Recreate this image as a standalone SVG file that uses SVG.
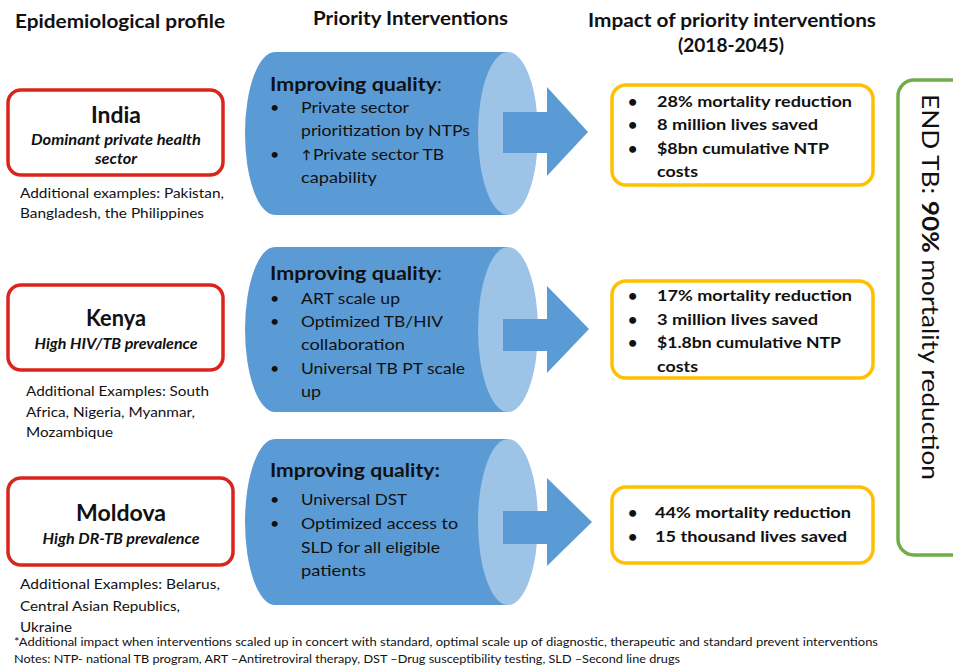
<svg xmlns="http://www.w3.org/2000/svg" width="953" height="668" viewBox="0 0 953 668">
<style>
text{font-family:Lato,"Open Sans","Liberation Sans",sans-serif;fill:#111}
.h{font-size:19px;font-weight:700}
.cn{font-size:22px;font-weight:700;text-anchor:middle}
.sub{font-size:15px;font-weight:700;font-style:italic;text-anchor:middle}
.ex{font-size:14px}
.iq{font-size:19px;font-weight:700}
.it{font-size:16px}
.bl{font-size:16px}
.res{font-size:16px;font-weight:700}
.fn{font-size:12px}
.red{fill:#fff;stroke:#d9251b;stroke-width:3.5}
.yel{fill:#fff;stroke:#ffc000;stroke-width:3.5}
.grn{fill:#fff;stroke:#70ad47;stroke-width:3.5}
.cyl{fill:#5b9bd5}
.cap{fill:#9dc3e6}
.arr{fill:#5b9bd5}
</style>

<g id="headers">
<text class="h" x="15" y="28" textLength="210" lengthAdjust="spacingAndGlyphs">Epidemiological profile</text>
<text class="h" x="313" y="25" textLength="195" lengthAdjust="spacingAndGlyphs">Priority Interventions</text>
<text class="h" x="588" y="27" textLength="288" lengthAdjust="spacingAndGlyphs">Impact of priority interventions</text>
<text class="h" x="678" y="52" textLength="106" lengthAdjust="spacingAndGlyphs">(2018-2045)</text>
</g>

<g id="india">
<rect class="red" x="8" y="90" width="215" height="85" rx="13"/>
<text class="cn" x="116" y="123" textLength="50" lengthAdjust="spacingAndGlyphs">India</text>
<text class="sub" x="116" y="145" textLength="170" lengthAdjust="spacingAndGlyphs">Dominant private health</text>
<text class="sub" x="116" y="164" textLength="42" lengthAdjust="spacingAndGlyphs">sector</text>
<text class="ex" x="20" y="198" textLength="204" lengthAdjust="spacingAndGlyphs">Additional examples: Pakistan,</text>
<text class="ex" x="20" y="218" textLength="184" lengthAdjust="spacingAndGlyphs">Bangladesh, the Philippines</text>
</g>

<g id="kenya">
<rect class="red" x="8" y="285" width="215" height="85" rx="13"/>
<text class="cn" x="116" y="326" textLength="60" lengthAdjust="spacingAndGlyphs">Kenya</text>
<text class="sub" x="116" y="349" textLength="163" lengthAdjust="spacingAndGlyphs">High HIV/TB prevalence</text>
<text class="ex" x="26" y="396" textLength="183" lengthAdjust="spacingAndGlyphs">Additional Examples: South</text>
<text class="ex" x="26" y="417" textLength="169" lengthAdjust="spacingAndGlyphs">Africa, Nigeria, Myanmar,</text>
<text class="ex" x="26" y="437" textLength="87" lengthAdjust="spacingAndGlyphs">Mozambique</text>
</g>

<g id="moldova">
<rect class="red" x="8" y="478" width="225" height="87" rx="13"/>
<text class="cn" x="121" y="521" textLength="90" lengthAdjust="spacingAndGlyphs">Moldova</text>
<text class="sub" x="121" y="544" textLength="157" lengthAdjust="spacingAndGlyphs">High DR-TB prevalence</text>
<text class="ex" x="20" y="589" textLength="200" lengthAdjust="spacingAndGlyphs">Additional Examples: Belarus,</text>
<text class="ex" x="20" y="611" textLength="160" lengthAdjust="spacingAndGlyphs">Central Asian Republics,</text>
<text class="ex" x="20" y="632" textLength="52" lengthAdjust="spacingAndGlyphs">Ukraine</text>
</g>

<g id="intervention-india">
<path class="cyl" d="M275,52 H508 V215 H275 A30,81.5 0 0 1 275,52 Z"/>
<ellipse class="cap" cx="508" cy="133.5" rx="30" ry="81.5"/>
<text class="iq" x="270" y="91"><tspan textLength="167" lengthAdjust="spacingAndGlyphs">Improving quality</tspan><tspan font-weight="400">:</tspan></text>
<text class="bl" x="270" y="113">•</text>
<text class="it" x="301" y="113" textLength="108" lengthAdjust="spacingAndGlyphs">Private sector</text>
<text class="it" x="301" y="136" textLength="169" lengthAdjust="spacingAndGlyphs">prioritization by NTPs</text>
<text class="bl" x="270" y="160">•</text>
<text x="302" y="159" font-size="12" font-weight="700">↑</text>
<text class="it" x="313" y="160" textLength="131" lengthAdjust="spacingAndGlyphs">Private sector TB</text>
<text class="it" x="301" y="183" textLength="76" lengthAdjust="spacingAndGlyphs">capability</text>
</g>

<g id="intervention-kenya">
<path class="cyl" d="M275,247 H508 V412 H275 A30,82.5 0 0 1 275,247 Z"/>
<ellipse class="cap" cx="508" cy="329.5" rx="30" ry="82.5"/>
<text class="iq" x="270" y="280"><tspan textLength="167" lengthAdjust="spacingAndGlyphs">Improving quality</tspan><tspan font-weight="400">:</tspan></text>
<text class="bl" x="270" y="304">•</text>
<text class="it" x="301" y="304" textLength="99" lengthAdjust="spacingAndGlyphs">ART scale up</text>
<text class="bl" x="270" y="327">•</text>
<text class="it" x="301" y="327" textLength="142" lengthAdjust="spacingAndGlyphs">Optimized  TB/HIV</text>
<text class="it" x="301" y="350" textLength="104" lengthAdjust="spacingAndGlyphs">collaboration</text>
<text class="bl" x="270" y="374">•</text>
<text class="it" x="301" y="374" textLength="164" lengthAdjust="spacingAndGlyphs">Universal TB PT scale</text>
<text class="it" x="301" y="397" textLength="20" lengthAdjust="spacingAndGlyphs">up</text>
</g>

<g id="intervention-moldova">
<path class="cyl" d="M275,439 H508 V605 H275 A30,83 0 0 1 275,439 Z"/>
<ellipse class="cap" cx="508" cy="522" rx="30" ry="83"/>
<text class="iq" x="270" y="477" textLength="170" lengthAdjust="spacingAndGlyphs">Improving quality:</text>
<text class="bl" x="270" y="505">•</text>
<text class="it" x="301" y="505" textLength="106" lengthAdjust="spacingAndGlyphs">Universal DST</text>
<text class="bl" x="270" y="529">•</text>
<text class="it" x="301" y="529" textLength="157" lengthAdjust="spacingAndGlyphs">Optimized access to</text>
<text class="it" x="301" y="553" textLength="139" lengthAdjust="spacingAndGlyphs">SLD for all eligible</text>
<text class="it" x="301" y="576" textLength="65" lengthAdjust="spacingAndGlyphs">patients</text>
</g>

<g id="connectors">
<path class="arr" d="M503,112 H547 V87 L588,132 L547,176 V153 H503 Z"/>
<path class="arr" d="M503,319 H547 V286 L589,329 L547,373 V351 H503 Z"/>
<path class="arr" d="M503,511 H547 V478 L592,522 L547,566 V544 H503 Z"/>
</g>

<g id="impact-india">
<rect class="yel" x="612" y="85" width="261" height="100" rx="14"/>
<text class="res" x="628" y="107">•</text>
<text class="res" x="657" y="107" textLength="195" lengthAdjust="spacingAndGlyphs">28% mortality reduction</text>
<text class="res" x="628" y="130">•</text>
<text class="res" x="657" y="130" textLength="161" lengthAdjust="spacingAndGlyphs">8 million lives saved</text>
<text class="res" x="628" y="154">•</text>
<text class="res" x="657" y="154" textLength="172" lengthAdjust="spacingAndGlyphs">$8bn cumulative NTP</text>
<text class="res" x="657" y="177" textLength="41" lengthAdjust="spacingAndGlyphs">costs</text>
</g>

<g id="impact-kenya">
<rect class="yel" x="612" y="281" width="261" height="97" rx="14"/>
<text class="res" x="628" y="301">•</text>
<text class="res" x="657" y="301" textLength="195" lengthAdjust="spacingAndGlyphs">17% mortality reduction</text>
<text class="res" x="628" y="325">•</text>
<text class="res" x="657" y="325" textLength="161" lengthAdjust="spacingAndGlyphs">3 million lives saved</text>
<text class="res" x="628" y="348">•</text>
<text class="res" x="657" y="348" textLength="184" lengthAdjust="spacingAndGlyphs">$1.8bn cumulative NTP</text>
<text class="res" x="657" y="372" textLength="41" lengthAdjust="spacingAndGlyphs">costs</text>
</g>

<g id="impact-moldova">
<rect class="yel" x="612" y="487" width="261" height="76" rx="14"/>
<text class="res" x="628" y="518">•</text>
<text class="res" x="655" y="518" textLength="196" lengthAdjust="spacingAndGlyphs">44% mortality reduction</text>
<text class="res" x="628" y="542">•</text>
<text class="res" x="655" y="542" textLength="192" lengthAdjust="spacingAndGlyphs">15 thousand lives saved</text>
</g>

<g id="end-tb">
<rect class="grn" x="898" y="80" width="90" height="475" rx="16"/>
<text x="922" y="94" transform="rotate(90 922 94)" font-size="23" textLength="386" lengthAdjust="spacingAndGlyphs">END TB: <tspan font-weight="700">90%</tspan> mortality reduction</text>
</g>

<g id="notes">
<text class="fn" x="14" y="646" textLength="864" lengthAdjust="spacingAndGlyphs">*Additional impact when interventions scaled up in concert with standard, optimal scale up of diagnostic, therapeutic and standard  prevent interventions</text>
<text class="fn" x="14" y="663" textLength="666" lengthAdjust="spacingAndGlyphs">Notes: NTP- national TB program, ART –Antiretroviral therapy, DST –Drug susceptibility testing, SLD –Second line drugs</text>
</g>
</svg>
